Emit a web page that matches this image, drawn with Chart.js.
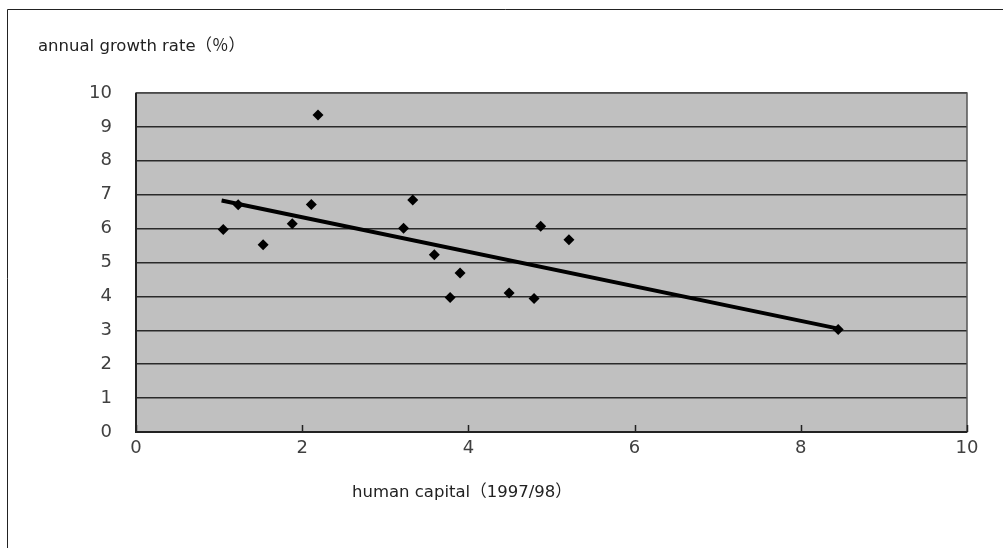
<!DOCTYPE html>
<html>
<head>
<meta charset="utf-8">
<script src="https://cdn.jsdelivr.net/npm/chart.js@4.4.0/dist/chart.umd.min.js"></script>
<style>
  html, body { margin: 0; padding: 0; background: #fff; }
  #wrap { width: 1003px; height: 548px; position: relative; }
</style>
</head>
<body>
<div id="wrap"><canvas id="chart" width="1003" height="548"></canvas></div>
<script>
// human capital (1997/98) vs annual growth rate (%)
const humanCapital = [1.05, 1.23, 1.53, 1.88, 2.11, 2.19, 3.22, 3.33, 3.59, 3.90, 3.78, 4.49, 4.79, 4.87, 5.21, 8.45];
const growthRate   = [5.97, 6.70, 5.52, 6.14, 6.71, 9.35, 6.01, 6.84, 5.23, 4.69, 3.97, 4.10, 3.94, 6.07, 5.67, 3.02];

// fitted trend, drawn between its two ends
const trendX = [1.03, 8.45];
const trendY = [6.83, 3.05];

const xTicks = [0, 2, 4, 6, 8, 10];
const yTicks = [0, 1, 2, 3, 4, 5, 6, 7, 8, 9, 10];

const xLabel = "human capital（1997/98）";
const yLabel = "annual growth rate（％）";

const LABEL_FONT = '"DejaVu Sans", "Noto Sans CJK JP", sans-serif';

const zip = (xs, ys) => xs.map((x, i) => ({ x, y: ys[i] }));

const frame = {
  id: "frame",
  beforeDraw(chart) {
    const { ctx, chartArea: a } = chart;
    ctx.save();
    // outer frame (top and left only visible)
    ctx.strokeStyle = "#222";
    ctx.lineWidth = 1;
    ctx.beginPath();
    ctx.moveTo(7.5, 548);
    ctx.lineTo(7.5, 9.5);
    ctx.lineTo(1003, 9.5);
    ctx.stroke();
    // plot background
    ctx.fillStyle = "#c0c0c0";
    ctx.fillRect(a.left, a.top, a.right - a.left, a.bottom - a.top);
    ctx.restore();
  },
  afterDatasetsDraw(chart) {
    const { ctx, chartArea: a, scales } = chart;
    ctx.save();
    // plot border
    ctx.strokeStyle = "#555";
    ctx.lineWidth = 1.5;
    ctx.strokeRect(a.left, a.top, a.right - a.left, a.bottom - a.top);
    ctx.strokeStyle = "#222";
    ctx.lineWidth = 2;
    ctx.beginPath();
    ctx.moveTo(a.left, a.top);
    ctx.lineTo(a.left, a.bottom);
    ctx.lineTo(a.right, a.bottom);
    ctx.stroke();
    // inward x tick marks
    ctx.lineWidth = 1.5;
    ctx.beginPath();
    xTicks.forEach((v) => {
      const px = Math.round(scales.x.getPixelForValue(v)) + 0.5;
      ctx.moveTo(px, a.bottom);
      ctx.lineTo(px, a.bottom - 7);
    });
    ctx.stroke();
    // axis labels
    ctx.fillStyle = "#222";
    ctx.font = "16.5px " + LABEL_FONT;
    ctx.textBaseline = "middle";
    ctx.textAlign = "left";
    ctx.fillText(yLabel, 38, 47);
    ctx.fillText(xLabel, 352, 493);
    ctx.restore();
  },
};

new Chart(document.getElementById("chart"), {
  data: {
    datasets: [
      {
        type: "scatter",
        data: zip(humanCapital, growthRate),
        pointStyle: "rectRot",
        pointRadius: 5.5,
        backgroundColor: "#000",
        borderColor: "#000",
        borderWidth: 0,
      },
      {
        type: "line",
        data: zip(trendX, trendY),
        borderColor: "#000",
        borderWidth: 4,
        pointRadius: 0,
        fill: false,
      },
    ],
  },
  options: {
    responsive: false,
    animation: false,
    layout: { padding: { top: 93, right: 36, left: 0, bottom: 0 } },
    plugins: { legend: { display: false }, tooltip: { enabled: false } },
    scales: {
      x: {
        type: "linear",
        min: 0,
        max: 10,
        afterBuildTicks: (s) => { s.ticks = xTicks.map((value) => ({ value })); },
        afterFit: (s) => { s.height = 116; },
        grid: { display: false, drawTicks: false },
        border: { display: false },
        ticks: {
          padding: 6,
          color: "#404040",
          font: { family: "DejaVu Sans", size: 18 },
          maxRotation: 0,
        },
      },
      y: {
        type: "linear",
        min: 0,
        max: 10,
        afterBuildTicks: (s) => { s.ticks = yTicks.map((value) => ({ value })); },
        afterFit: (s) => { s.width = 136; },
        grid: { color: "#2a2a2a", lineWidth: 1.5, drawTicks: false },
        border: { display: false },
        ticks: {
          padding: 24,
          color: "#404040",
          font: { family: "DejaVu Sans", size: 18 },
        },
      },
    },
  },
  plugins: [frame],
});
</script>
</body>
</html>
